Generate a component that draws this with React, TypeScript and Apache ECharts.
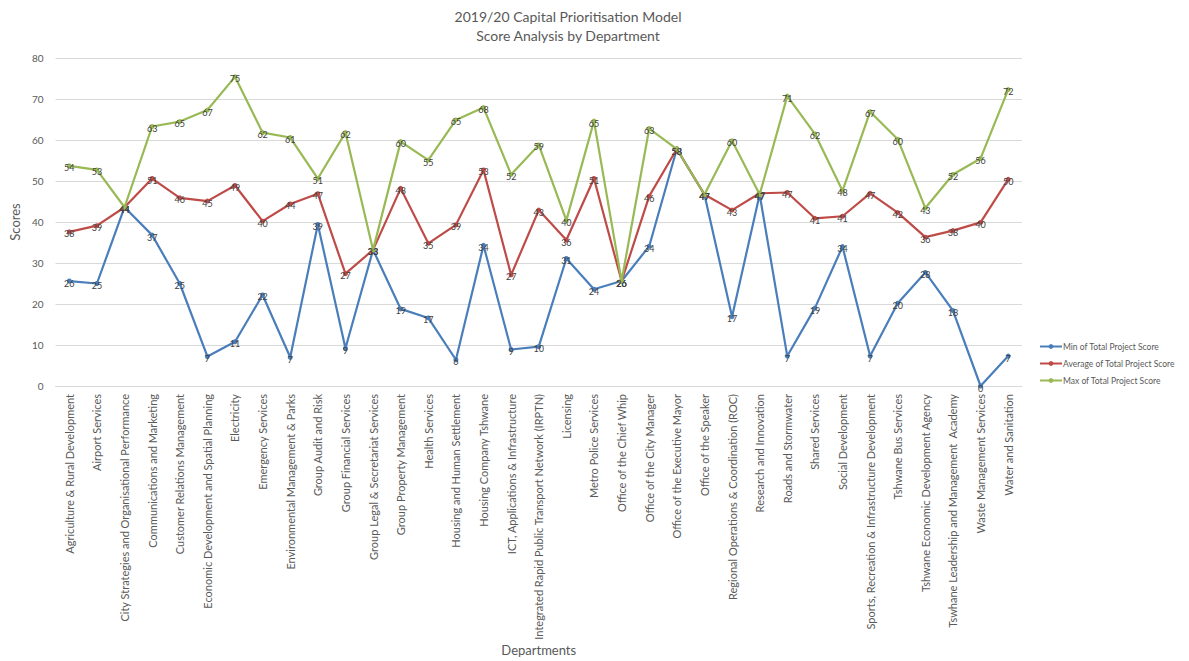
import React, { useEffect, useRef } from "react";
import * as echarts from "echarts";

const categories = [
  "Agriculture & Rural Development",
  "Airport Services",
  "City Strategies and Organisational Performance",
  "Communications and Marketing",
  "Customer Relations Management",
  "Economic Development and Spatial Planning",
  "Electricity",
  "Emergency Services",
  "Environmental Management & Parks",
  "Group Audit and Risk",
  "Group Financial Services",
  "Group Legal & Secretariat Services",
  "Group Property Management",
  "Health Services",
  "Housing and Human Settlement",
  "Housing Company Tshwane",
  "ICT, Applications & Infrastructure",
  "Integrated Rapid Public Transport Network (IRPTN)",
  "Licensing",
  "Metro Police Services",
  "Office of the Chief Whip",
  "Office of the City Manager",
  "Office of the Executive Mayor",
  "Office of the Speaker",
  "Regional Operations & Coordination (ROC)",
  "Research and Innovation",
  "Roads and Stormwater",
  "Shared Services",
  "Social Development",
  "Sports, Recreation & Infrastructure Development",
  "Tshwane Bus Services",
  "Tshwane Economic Development Agency",
  "Tswhane Leadership and Management  Academy",
  "Waste Management Services",
  "Water and Sanitation",
];

const minScores = [
  25.6, 25.0, 43.6, 36.8, 25.0, 7.2, 10.8, 22.2, 7.0, 39.4, 9.2, 33.2, 18.8, 16.6, 6.4,
  34.3, 8.9, 9.6, 31.1, 23.6, 25.6, 34.1, 57.8, 46.7, 16.9, 46.7, 7.3, 19.0, 34.0, 7.3,
  20.2, 27.7, 18.4, 0.0, 7.3,
];

const avgScores = [
  37.6, 39.1, 43.6, 50.6, 45.9, 45.1, 48.9, 40.2, 44.4, 46.9, 27.4, 33.2, 48.2, 34.8, 39.3,
  52.7, 27.1, 42.9, 35.6, 50.6, 25.6, 46.3, 57.8, 46.7, 42.9, 47.0, 47.2, 40.9, 41.4, 47.0,
  42.3, 36.3, 37.9, 39.9, 50.4,
];

const maxScores = [
  53.7, 52.7, 43.6, 63.3, 64.5, 67.3, 75.4, 61.8, 60.6, 50.6, 61.8, 33.2, 59.6, 55.1, 64.9,
  67.9, 51.6, 58.8, 40.4, 64.6, 25.6, 62.8, 57.8, 46.7, 59.8, 46.7, 70.7, 61.5, 47.6, 66.9,
  60.2, 43.4, 51.6, 55.5, 72.3,
];

const seriesNames = [
  "Min of Total Project Score",
  "Average of Total Project Score",
  "Max of Total Project Score",
];
const yTicks = { min: 0, max: 80, interval: 10 };

const FONT = "Lato, 'Liberation Sans', sans-serif";

export default function App() {
  const ref = useRef<HTMLDivElement>(null);
  useEffect(() => {
    if (!ref.current) return;
    const chart = echarts.init(ref.current, null, { renderer: "svg" });
    const colors = ["#4a7ebb", "#be4b48", "#98b954"];
    const datasets = [minScores, avgScores, maxScores];
    chart.setOption({
      animation: false,
      textStyle: { fontFamily: FONT },
      title: {
        text: "2019/20 Capital Prioritisation Model\nScore Analysis by Department",
        left: 563,
        top: 2,
        textAlign: "center",
        textStyle: {
          fontFamily: FONT,
          fontSize: 14,
          fontWeight: "normal",
          color: "#595959",
          lineHeight: 19,
        },
      },
      legend: {
        orient: "vertical",
        left: 1034,
        top: 337,
        itemGap: 8,
        itemWidth: 22,
        itemHeight: 6,
        data: seriesNames,
        textStyle: { fontFamily: FONT, fontSize: 8.5, color: "#595959", padding: [0, 0, 0, -4] },
      },
      grid: { left: 49, right: 167, top: 58, bottom: 275, containLabel: false },
      xAxis: {
        type: "category",
        data: categories,
        boundaryGap: true,
        name: "Departments",
        nameLocation: "middle",
        nameGap: 256,
        nameTextStyle: { fontFamily: FONT, fontSize: 13, color: "#595959" },
        axisLine: { lineStyle: { color: "#d9d9d9" } },
        axisTick: { show: false },
        axisLabel: {
          rotate: 90,
          interval: 0,
          fontFamily: FONT,
          fontSize: 11,
          color: "#595959",
          margin: 8,
        },
      },
      yAxis: {
        type: "value",
        min: yTicks.min,
        max: yTicks.max,
        interval: yTicks.interval,
        name: "Scores",
        nameLocation: "middle",
        nameGap: 33,
        nameRotate: 90,
        nameTextStyle: { fontFamily: FONT, fontSize: 13, color: "#595959" },
        axisLine: { show: false },
        axisTick: { show: false },
        splitLine: { lineStyle: { color: "#d9d9d9", width: 1 } },
        axisLabel: { fontFamily: FONT, fontSize: 10, color: "#595959", margin: 12 },
      },
      series: seriesNames.map((name, i) => ({
        name,
        type: "line",
        data: datasets[i],
        color: colors[i],
        symbol: "circle",
        symbolSize: 5,
        lineStyle: { width: 2.2, color: colors[i] },
        itemStyle: { color: colors[i] },
        label: {
          show: true,
          position: "inside",
          offset: [0, 2],
          fontFamily: FONT,
          fontSize: 9,
          color: "#404040",
          formatter: (p: any) => String(Math.round(p.value)),
        },
        z: 2 + i,
      })),
    });
    return () => chart.dispose();
  }, []);
  return (
    <div
      ref={ref}
      style={{ position: "absolute", left: 0, top: 0, width: 1189, height: 661 }}
    />
  );
}
